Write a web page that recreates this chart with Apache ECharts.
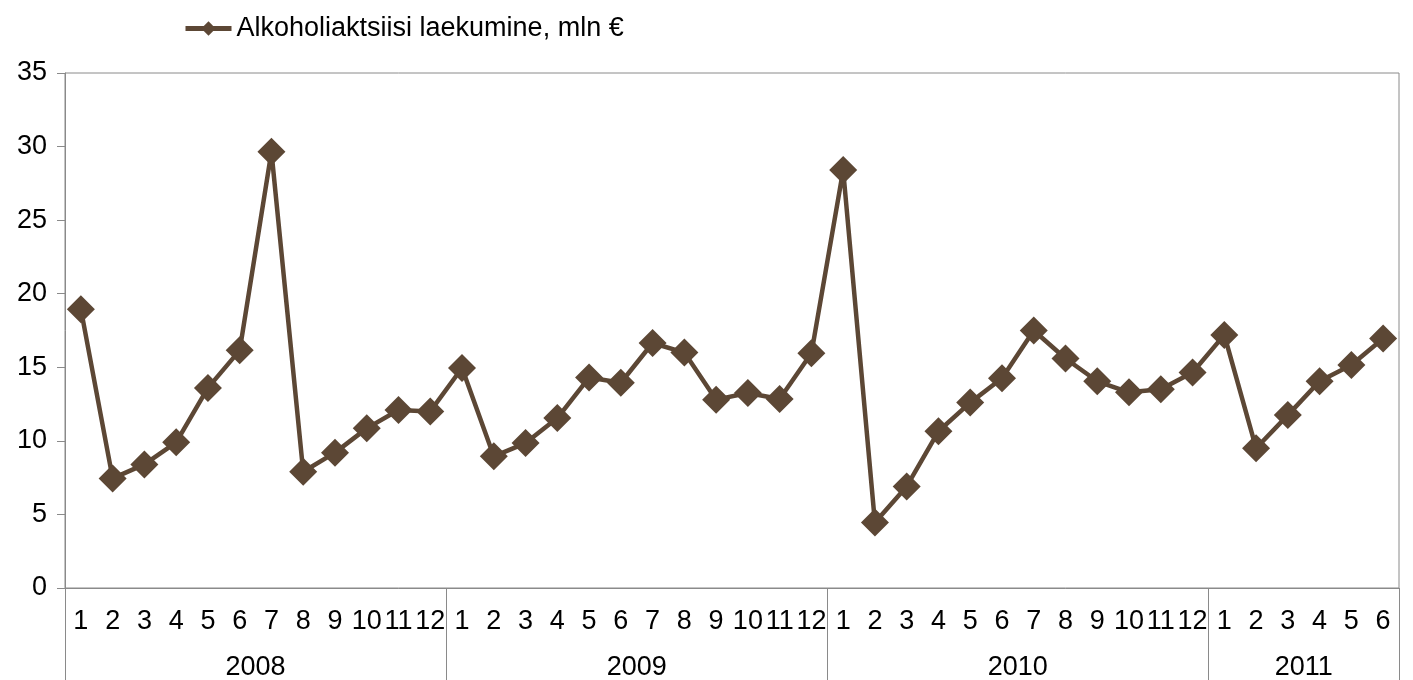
<!DOCTYPE html>
<html>
<head>
<meta charset="utf-8">
<script src="https://cdn.jsdelivr.net/npm/echarts@6/dist/echarts.min.js"></script>
<style>
html,body{margin:0;padding:0;background:#fff;}
#chart{width:1413px;height:680px;}
</style>
</head>
<body>
<div id="chart"></div>
<script>
// ---- data ----
var seriesName = 'Alkoholiaktsiisi laekumine, mln €';
var years = ['2008', '2009', '2010', '2011'];
var monthsPerYear = [12, 12, 12, 6];
var v2008 = [18.95, 7.45, 8.4, 9.9, 13.6, 16.15, 29.65, 7.9, 9.2, 10.85, 12.1, 12.0];
var v2009 = [14.95, 8.95, 9.85, 11.55, 14.3, 13.95, 16.65, 16.0, 12.8, 13.25, 12.85, 15.95];
var v2010 = [28.4, 4.45, 6.9, 10.65, 12.6, 14.25, 17.5, 15.6, 14.05, 13.3, 13.5, 14.65];
var v2011 = [17.2, 9.5, 11.75, 14.05, 15.15, 16.95];
var yTicks = [0, 5, 10, 15, 20, 25, 30, 35];

// ---- derived ----
var values = v2008.concat(v2009, v2010, v2011);
var monthLabels = [];
var yearBounds = [0];
var yearCenters = [];
var acc = 0;
monthsPerYear.forEach(function (n) {
  for (var m = 1; m <= n; m++) monthLabels.push(String(m));
  yearCenters.push(acc + n / 2);
  acc += n;
  yearBounds.push(acc);
});
var total = acc;

var FONT = 'Liberation Sans, Arial, sans-serif';
var FS = 27;
var GRAY = '#8a8a8a';
var COLOR = '#5c4735';

var chart = echarts.init(document.getElementById('chart'), null, {renderer: 'canvas'});
chart.setOption({
  animation: false,
  backgroundColor: '#fff',
  textStyle: {fontFamily: FONT},
  legend: {
    show: true,
    left: 178,
    top: 10,
    itemWidth: 46,
    itemHeight: 18,
    lineStyle: {width: 5},
    textStyle: {fontFamily: FONT, fontSize: FS, color: '#000'},
    data: [seriesName]
  },
  grid: {
    left: 65, right: 14, top: 73, bottom: 92,
    show: true, borderColor: GRAY, borderWidth: 1,
    containLabel: false, outerBoundsMode: 'none'
  },
  xAxis: [{
    type: 'category',
    data: monthLabels,
    boundaryGap: true,
    position: 'bottom',
    axisLine: {show: true, lineStyle: {color: GRAY, width: 1}},
    axisTick: {show: false},
    axisLabel: {interval: 0, margin: 20, fontSize: FS, color: '#000', fontFamily: FONT},
    splitLine: {show: false}
  }, {
    type: 'value',
    min: 0, max: total,
    position: 'bottom',
    axisLine: {show: false},
    splitLine: {show: false},
    axisTick: {show: true, length: 100, customValues: yearBounds, lineStyle: {color: GRAY, width: 1}},
    axisLabel: {
      show: true, margin: 66, fontSize: FS, color: '#000', fontFamily: FONT,
      customValues: yearCenters,
      formatter: function (v) {
        var i = yearCenters.indexOf(v);
        return i >= 0 ? years[i] : '';
      }
    }
  }],
  yAxis: {
    type: 'value',
    min: yTicks[0], max: yTicks[yTicks.length - 1], interval: 5,
    axisLine: {show: true, lineStyle: {color: GRAY, width: 1}},
    axisTick: {show: true, inside: false, length: 8, lineStyle: {color: GRAY}},
    axisLabel: {margin: 18, fontSize: FS, color: '#000', fontFamily: FONT},
    splitLine: {show: false}
  },
  series: [{
    name: seriesName,
    type: 'line',
    xAxisIndex: 0,
    data: values,
    symbol: 'diamond',
    symbolSize: 28,
    lineStyle: {color: COLOR, width: 4.5},
    itemStyle: {color: COLOR},
    z: 3
  }]
});
</script>
</body>
</html>
